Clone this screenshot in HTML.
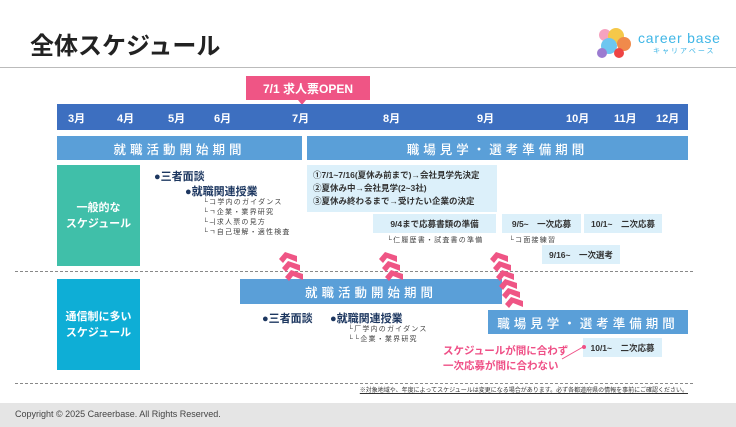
<!DOCTYPE html>
<html><head><meta charset="utf-8"><style>
*{margin:0;padding:0;box-sizing:border-box}
body{width:736px;height:427px;position:relative;background:#fff;font-family:"Liberation Sans","Noto Sans CJK JP",sans-serif;overflow:hidden;color:#222}
.a{position:absolute;white-space:nowrap}
.c{display:flex;align-items:center;justify-content:center;text-align:center}
.bar{background:#5a9fd8;color:#fff;font-weight:500;letter-spacing:4px;font-size:12.5px}
.lb{background:#dcf0fa;color:#333;font-size:8.5px;font-weight:bold}
.sm{font-size:7px;color:#444;letter-spacing:1.2px;line-height:10px}
.dash{border-top:1.5px dashed #888}
</style></head><body>
<div class="a" style="left:30px;top:26px;font-size:24px;font-weight:bold;color:#222">全体スケジュール</div>
<svg class="a" style="left:596px;top:27px" width="40" height="32"><circle cx="9" cy="8" r="6" fill="#f6a3c0"/><circle cx="20" cy="9" r="8" fill="#f5c84a"/><circle cx="28" cy="17" r="7" fill="#f08a4b"/><circle cx="13" cy="19" r="8" fill="#6ec6f0"/><circle cx="6" cy="26" r="5" fill="#9b7bd0"/><circle cx="23" cy="26" r="5" fill="#e44"/></svg>
<div class="a" style="left:638px;top:30px;font-size:14px;color:#3fb6e6;letter-spacing:0.8px">career base</div>
<div class="a" style="left:653px;top:46px;font-size:7px;color:#3fb6e6;letter-spacing:2px">キャリアベース</div>
<div class="a" style="left:0;top:67px;width:736px;height:1px;background:#bbb"></div>

<div class="a c" style="left:246px;top:76px;width:124px;height:24px;background:#ef5585;color:#fff;font-size:12px;font-weight:bold">7/1 求人票OPEN</div>
<div class="a" style="left:298px;top:100px;width:0;height:0;border-left:4px solid transparent;border-right:4px solid transparent;border-top:5px solid #ef5585"></div>

<div class="a" style="left:57px;top:104px;width:631px;height:26px;background:#3d6fc0"></div>
<div class="a" style="top:110px;left:0;color:#fff;font-size:11px;font-weight:bold">
<span class="a" style="left:68px">3月</span><span class="a" style="left:117px">4月</span><span class="a" style="left:168px">5月</span><span class="a" style="left:214px">6月</span><span class="a" style="left:292px">7月</span><span class="a" style="left:383px">8月</span><span class="a" style="left:477px">9月</span><span class="a" style="left:566px">10月</span><span class="a" style="left:614px">11月</span><span class="a" style="left:656px">12月</span></div>

<div class="a c bar" style="left:57px;top:136px;width:245px;height:24px">就職活動開始期間</div>
<div class="a c bar" style="left:307px;top:136px;width:381px;height:24px">職場見学・選考準備期間</div>

<div class="a c" style="left:57px;top:165px;width:83px;height:101px;background:#40bfa9;color:#fff;font-size:11px;font-weight:bold;line-height:16px">一般的な<br>スケジュール</div>
<div class="a" style="left:154px;top:168px;font-size:11px;font-weight:bold;color:#1d3760">●三者面談</div>
<div class="a" style="left:185px;top:183px;font-size:11px;font-weight:bold;color:#1d3760">●就職関連授業</div>
<div class="a sm" style="left:203px;top:198px">└コ学内のガイダンス<br>└ㄱ企業・業界研究<br>└ㅢ求人票の見方<br>└ㄱ自己理解・適性検査</div>

<div class="a lb" style="left:307px;top:165px;width:190px;height:47px;padding:4px 6px;line-height:13px;font-size:8.5px">①7/1~7/16(夏休み前まで)→会社見学先決定<br>②夏休み中→会社見学(2~3社)<br>③夏休み終わるまで→受けたい企業の決定</div>
<div class="a c lb" style="left:373px;top:214px;width:123px;height:19px">9/4まで応募書類の準備</div>
<div class="a c lb" style="left:502px;top:214px;width:79px;height:19px">9/5~　一次応募</div>
<div class="a c lb" style="left:584px;top:214px;width:78px;height:19px">10/1~　二次応募</div>
<div class="a sm" style="left:387px;top:236px">└仁履歴書・試査書の準備</div>
<div class="a sm" style="left:509px;top:236px">└コ面接練習</div>
<div class="a c lb" style="left:542px;top:245px;width:78px;height:19px">9/16~　一次選考</div>

<div class="a dash" style="left:15px;top:271px;width:678px"></div>

<div class="a c" style="left:57px;top:279px;width:83px;height:91px;background:#0eaed6;color:#fff;font-size:11px;font-weight:bold;line-height:16px">通信制に多い<br>スケジュール</div>
<div class="a c bar" style="left:240px;top:279px;width:262px;height:25px">就職活動開始期間</div>
<div class="a" style="left:262px;top:310px;font-size:11px;font-weight:bold;color:#1d3760">●三者面談</div>
<div class="a" style="left:330px;top:310px;font-size:11px;font-weight:bold;color:#1d3760">●就職関連授業</div>
<div class="a sm" style="left:348px;top:325px">└厂学内のガイダンス<br>└└企業・業界研究</div>
<div class="a c bar" style="left:488px;top:310px;width:200px;height:24px">職場見学・選考準備期間</div>
<div class="a c lb" style="left:583px;top:338px;width:79px;height:19px">10/1~　二次応募</div>
<div class="a" style="left:443px;top:344px;font-size:10.5px;color:#ef4f86;line-height:15px;font-weight:bold">スケジュールが間に合わず<br>一次応募が間に合わない</div>
<svg class="a" style="left:560px;top:343px" width="30" height="20"><line x1="2" y1="16" x2="23" y2="4" stroke="#ef4f86" stroke-width="1"/><circle cx="24" cy="4" r="2" fill="#ef4f86"/></svg>

<div class="a dash" style="left:15px;top:383px;width:678px"></div>
<div class="a" style="right:48px;top:385px;font-size:6px;color:#333;text-decoration:underline">※対象地域や、年度によってスケジュールは変更になる場合があります。必ず各都道府県の情報を事前にご確認ください。</div>

<svg class="a" style="left:0;top:0" width="736" height="427">
<defs><path id="ch" d="M0,7 L6,0 L18,4 L18,10 L8,6 L4,11 Z" fill="#ef5585"/></defs>
<g transform="translate(279,252)"><use href="#ch"/><use href="#ch" x="3" y="9"/><use href="#ch" x="6" y="18"/></g>
<g transform="translate(379,252)"><use href="#ch"/><use href="#ch" x="3" y="9"/><use href="#ch" x="6" y="18"/></g>
<g transform="translate(490,252)"><use href="#ch"/><use href="#ch" x="3" y="9"/><use href="#ch" x="6" y="18"/><use href="#ch" x="9" y="27"/><use href="#ch" x="12" y="36"/><use href="#ch" x="15" y="45"/></g>
</svg>

<div class="a" style="left:0;top:403px;width:736px;height:24px;background:#e5e5e5"></div>
<div class="a" style="left:15px;top:409px;font-size:9px;color:#444">Copyright © 2025 Careerbase. All Rights Reserved.</div>
</body></html>
